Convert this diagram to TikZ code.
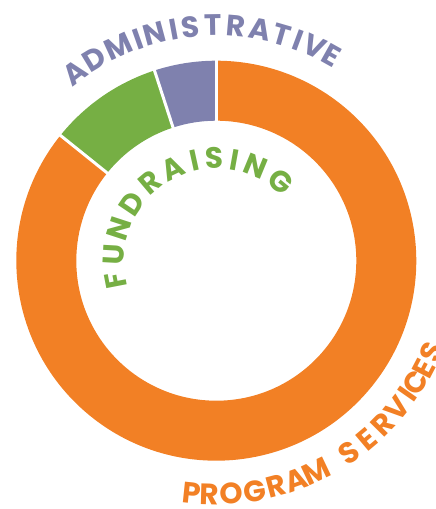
\documentclass[tikz,border=0pt]{standalone}
\usepackage{fontspec}
\setmainfont{Poppins}
\usepackage{xcolor}
\usepackage{tikz}
\usetikzlibrary{calc}

\definecolor{progorange}{RGB}{242,128,37}
\definecolor{fundgreen}{RGB}{118,175,68}
\definecolor{adminpurple}{RGB}{127,129,174}

\begin{document}
\begin{tikzpicture}[x = 1pt, y = 1pt]
		\useasboundingbox (-216.3, -248.3) rectangle (219.7, 260.7);
		\coordinate (c) at (0, 0);

		% ring segments
		\fill [progorange] ($(c) + (141.2:200)$) arc (141.2:450:200) -- ($(c) + (90:140)$) arc (450:141.2:140) -- cycle;
		\fill [fundgreen] ($(c) + (108:200)$) arc (108:141.2:200) -- ($(c) + (141.2:140)$) arc (141.2:108:140) -- cycle;
		\fill [adminpurple] ($(c) + (90:200)$) arc (90:108:200) -- ($(c) + (108:140)$) arc (108:90:140) -- cycle;

		\foreach \a in {90, 108, 141.2}
		\draw [white, line width = 3pt] ($(c) + (\a:138)$) -- ($(c) + (\a:202)$);

		\begin{scope}[every node/.style={font = \bfseries\fontsize{29.5}{32}\selectfont, anchor = base, inner sep = 0pt}]
		\foreach \ch/\a [count = \i] in {A/127, D/121.2, M/114.6, I/109.5, N/105.1, I/100.5, S/96.2, T/90.9, R/85.1, A/79.2, T/73.8, I/69.6, V/65.4, E/60.8}
		\node (admin\i) [text = adminpurple, rotate = \a - 90] at ($(c) + (\a:225)$) {\ch};

		\foreach \ch/\a [count = \i] in {F/190.9, U/176.8, N/161.9, D/146, R/130.2, A/115.4, I/102.4, S/91.3, I/79.8, N/67.6, G/50.7}
		\node (fund\i) [text = fundgreen, rotate = \a - 90] at ($(c) + (\a:92)$) {\ch};

		\foreach \ch/\a [count = \i] in {P/264, R/268.4, O/273.6, G/279.5, R/284.9, A/289.9, M/295.4, S/304.6, E/310.1, R/315.4, V/320.8, I/325.1, C/328.5, E/332.5, S/336.9}
		\node (prog\i) [text = progorange, rotate = \a + 90] at ($(c) + (\a:244)$) {\ch};
		\end{scope}

\end{tikzpicture}
\end{document}
